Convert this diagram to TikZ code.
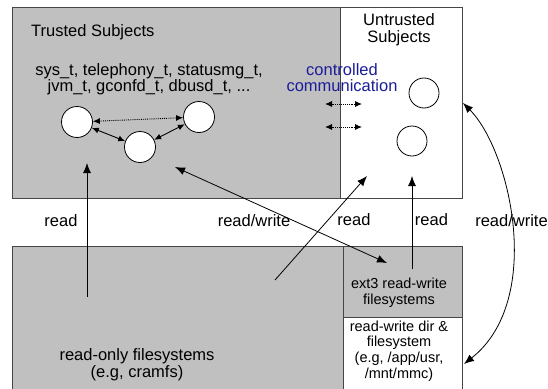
\documentclass[tikz,border=0pt]{standalone}
\usepackage{fontspec}
\setmainfont{Liberation Sans}
\usepackage{tikz}
\usetikzlibrary{arrows.meta, positioning}
\definecolor{sgray}{HTML}{C0C0C0}
\definecolor{sedge}{HTML}{454545}
\definecolor{sblue}{HTML}{1C1C9A}
\tikzset{
  zonebox/.style={draw=sedge, line width=0.9pt, fill=sgray, inner sep=0pt,
                  anchor=north west},
  openbox/.style={zonebox, fill=white},
  subj/.style={circle, draw=black, fill=white, line width=0.8pt,
               minimum size=31pt, inner sep=0pt},
  lbl/.style={font=\fontsize{16.5}{16.5}\selectfont, align=center, inner sep=0pt},
  fslbl/.style={font=\fontsize{14.5}{15.8}\selectfont, align=center, inner sep=0pt},
  arr/.style={-{Latex[length=10pt,width=8pt]}, line width=0.8pt},
  darr/.style={{Latex[length=10pt,width=8pt]}-{Latex[length=10pt,width=8pt]},
               line width=0.8pt},
  linkarr/.style={{Latex[length=7pt,width=6pt]}-{Latex[length=7pt,width=6pt]},
                  line width=0.9pt},
}

\begin{document}
\begin{tikzpicture}[x=1pt, y=-1pt]
  \useasboundingbox (0,0) rectangle (548,388);

  % Zones
  \node[zonebox, minimum width=328pt, minimum height=191pt] (trusted) at (12,7) {};
  \node[openbox, minimum width=122pt, minimum height=191pt] (untrusted) at (340,7) {};
  \node[zonebox, minimum width=331pt, minimum height=150pt] (rofs) at (12,246) {};
  \node[zonebox, minimum width=119pt, minimum height=71pt] (ext3) at (343,246) {};
  \node[openbox, minimum width=119pt, minimum height=80pt] (rwdir) at (343,317) {};

  % Zone labels (base = last line)
  \node[lbl, anchor=base west] (trustedlbl) at (31,36.5) {Trusted Subjects};
  \node[lbl, anchor=base] (domains) at (149,91.5)
    {sys\_t, telephony\_t, statusmg\_t,\\jvm\_t, gconfd\_t, dbusd\_t, ...};
  \node[lbl, anchor=base] (untrustedlbl) at (399,42) {Untrusted\\Subjects};
  \node[lbl, anchor=base, text=sblue] (commlbl) at (342,91.7)
    {controlled\\communication};
  \node[lbl, anchor=base] (rolbl) at (137,377) {read-only filesystems\\(e.g, cramfs)};
  \node[fslbl, anchor=base] (ext3lbl) at (399,304.5) {ext3 read-write\\filesystems};
  \node[fslbl, anchor=base] (rwlbl) at (399,378.5)
    {read-write dir \&\\filesystem\\(e.g, /app/usr,\\/mnt/mmc)};

  % Subjects
  \node[subj] (t1) at (77,122) {};
  \node[subj] (t2) at (199,117) {};
  \node[subj] (t3) at (140,147) {};
  \node[subj, minimum size=30pt] (u1) at (424,93) {};
  \node[subj, minimum size=30pt] (u2) at (412,141) {};

  % Links between trusted subjects
  \draw[linkarr, densely dotted] (t1) -- (t2);
  \draw[linkarr] (t1) -- (t3);
  \draw[linkarr] (t3) -- (t2);

  % Controlled communication
  \coordinate (ca1) at (325,104);
  \coordinate (cb1) at (362,104);
  \coordinate (ca2) at (325,127);
  \coordinate (cb2) at (362,127);
  \draw[linkarr, densely dotted] (ca1) -- (cb1);
  \draw[linkarr, densely dotted] (ca2) -- (cb2);

  % Access arrows
  \coordinate (rotail) at (87,297);
  \coordinate (trhead) at (87,163);
  \coordinate (trrw) at (175,167);
  \coordinate (ext3rw) at (387,263);
  \coordinate (rotail2) at (275,280);
  \coordinate (unhead) at (367,176);
  \coordinate (ext3tail) at (412,269);
  \coordinate (unhead2) at (412,176);
  \coordinate (unrw) at (463,103);
  \coordinate (dirrw) at (464,364);

  \draw[arr] (rotail) -- (trhead);
  \draw[darr] (trrw) -- (ext3rw);
  \draw[arr] (rotail2) -- (unhead);
  \draw[arr] (ext3tail) -- (unhead2);
  \draw[darr] (unrw) .. controls (510,150) and (545,300) .. (dirrw);

  % Access labels
  \node[lbl, anchor=base] (readl) at (61,226) {read};
  \node[lbl, anchor=base] (rwl) at (254,226) {read/write};
  \node[lbl, anchor=base] (readm) at (354,225) {read};
  \node[lbl, anchor=base] (readr) at (431.5,225) {read};
  \node[lbl, anchor=base] (rwr) at (511.5,226) {read/write};

\end{tikzpicture}
\end{document}
